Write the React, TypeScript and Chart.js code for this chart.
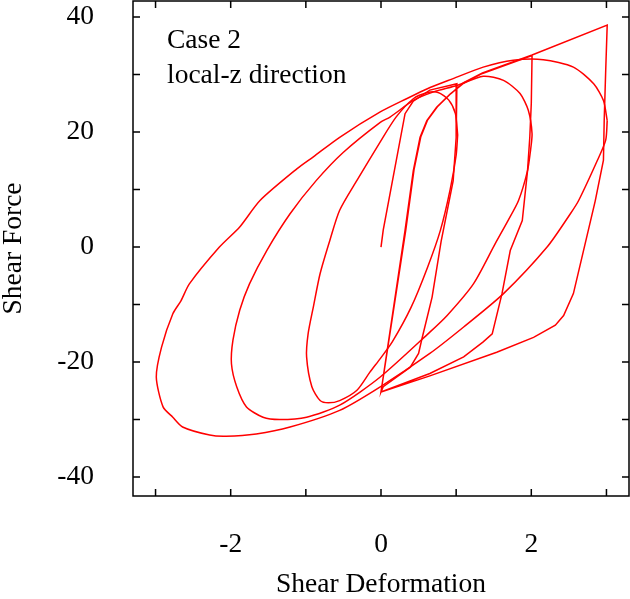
import React, { useEffect, useRef } from "react";
import Chart from "chart.js/auto";

const FONT = '"Liberation Serif", "Times New Roman", serif';

// tick labels that are printed (other ticks are drawn without text)
const xLabelled = [-2, 0, 2];
const yLabelled = [-40, -20, 0, 20, 40];
const noteLines = ["Case 2", "local-z direction"];

// bilinear branch: 0 -> +1 -> back to corner -> +2 -> corner -> +3 -> corner
const sharpBranch: [number, number][] = [
  [0, 0], [0.03, 3], [0.32, 23.2], [0.43, 25.4], [0.65, 27.3], [1.01, 28.4],
  [1.0, 19], [0.96, 11.5], [0.8, 1], [0.68, -8.7], [0.54, -16.2], [0.5, -18.5],
  [0.39, -20.9], [0.03, -24.3], [0, -25.2],
  [0.32, 2.9], [0.43, 13.3], [0.52, 19.1], [0.61, 22], [0.74, 24.3], [0.92, 26.6],
  [1.1, 28.5], [1.35, 30.2], [2.01, 33.3],
  [2.0, 25], [1.98, 19.1], [1.95, 13.3], [1.88, 4.6], [1.72, -0.6], [1.61, -8.1],
  [1.48, -15.1], [1.36, -16.5], [1.1, -19.1], [0.65, -22], [0, -25.2],
  [0.33, 3], [0.44, 13.5], [0.53, 19.2], [0.62, 22.1], [0.75, 24.4], [0.93, 26.7],
  [1.1, 28.6], [1.35, 30.3], [2.01, 33.4], [3.01, 38.6],
  [2.99, 30.7], [2.97, 22], [2.96, 15.1], [2.85, 8], [2.56, -8.1], [2.43, -11.9],
  [2.32, -13.6], [2.03, -15.7], [1.54, -18.3], [0.65, -22.4], [0, -25.2],
];

// smooth loops, amplitude ~1
const smallLoop: [number, number][] = [
  [1.02, 19.5], [0.99, 23.2], [0.9, 25.6], [0.76, 26.9], [0.6, 26.8], [0.43, 25.8],
  [0.2, 22.6], [-0.01, 18.3], [-0.32, 11.6], [-0.55, 6.4], [-0.68, 1.2], [-0.81, -4.6],
  [-0.9, -10.4], [-0.97, -15.1], [-0.99, -19.1], [-0.92, -24.3], [-0.81, -26.7],
  [-0.7, -27.1], [-0.55, -26.7], [-0.32, -24.9], [-0.15, -21.8], [-0.01, -19.4],
  [0.15, -16.5], [0.4, -10.5], [0.62, -3.5], [0.79, 2.9], [0.92, 10], [1.0, 16],
  [1.02, 19.5],
];

// amplitude ~2
const midLoop: [number, number][] = [
  [1.99, 16.8], [2.01, 19.7], [1.96, 23.8], [1.85, 26.7], [1.63, 29.0], [1.36, 29.7],
  [1.01, 28.1], [0.7, 27.0], [0.43, 25.5], [0.12, 22.6], [-0.01, 21.7], [-0.5, 16.5],
  [-0.86, 11.6], [-1.21, 5.8], [-1.52, -0.6], [-1.75, -6.4], [-1.88, -11.0],
  [-1.97, -16.2], [-1.99, -20.3], [-1.92, -24.3], [-1.79, -27.8], [-1.57, -29.6],
  [-1.35, -30.0], [-0.99, -29.6], [-0.55, -27.5], [-0.01, -22.6], [0.65, -14.8],
  [0.88, -11.9], [1.23, -6.4], [1.52, 0.6], [1.69, 4.6], [1.83, 8.1], [1.95, 13.3],
  [1.99, 16.8],
];

// amplitude ~3
const bigLoop: [number, number][] = [
  [3.01, 22.0], [2.96, 25.5], [2.83, 28.4], [2.56, 31.3], [2.16, 32.6], [1.76, 32.5],
  [1.36, 31.3], [0.96, 29.3], [0.61, 27.5], [0.34, 25.8], [-0.01, 23.5], [-0.55, 19.1],
  [-0.9, 15.7], [-1.12, 13.6], [-1.61, 8.1], [-1.88, 3.5], [-2.15, 0], [-2.55, -6.4],
  [-2.66, -9.3], [-2.77, -11.6], [-2.92, -17.4], [-2.99, -22.6], [-2.9, -27.8],
  [-2.77, -29.6], [-2.64, -31.3], [-2.28, -32.7], [-2.06, -32.9], [-1.66, -32.5],
  [-1.21, -31.3], [-0.55, -28.4], [-0.01, -24.3], [0.65, -18.5], [1.1, -13.9],
  [1.63, -8.1], [2.21, 0], [2.52, 5.8], [2.63, 8.1], [2.88, 15.1], [2.99, 18.6],
  [3.01, 22.0],
];

const toPoints = (arr: [number, number][]) => arr.map(([x, y]) => ({ x, y }));

// gnuplot-like frame with inward ticks on all four sides, plus the note
const framePlugin = {
  id: "frame",
  afterDraw(chart: any) {
    const { ctx, chartArea: a, scales } = chart;
    ctx.save();
    ctx.strokeStyle = "#000";
    ctx.lineWidth = 1.5;
    ctx.strokeRect(a.left, a.top, a.right - a.left, a.bottom - a.top);
    ctx.beginPath();
    scales.x.ticks.forEach((t: any) => {
      const p = scales.x.getPixelForValue(t.value);
      ctx.moveTo(p, a.bottom);
      ctx.lineTo(p, a.bottom - 7);
      ctx.moveTo(p, a.top);
      ctx.lineTo(p, a.top + 7);
    });
    scales.y.ticks.forEach((t: any) => {
      const p = scales.y.getPixelForValue(t.value);
      ctx.moveTo(a.left, p);
      ctx.lineTo(a.left + 7, p);
      ctx.moveTo(a.right, p);
      ctx.lineTo(a.right - 7, p);
    });
    ctx.stroke();
    ctx.fillStyle = "#000";
    ctx.font = `27.5px ${FONT}`;
    ctx.textAlign = "left";
    ctx.textBaseline = "alphabetic";
    noteLines.forEach((line, i) => ctx.fillText(line, a.left + 34, a.top + 47 + i * 35));
    ctx.restore();
  },
};

const noPadding = (scale: any) => {
  scale.paddingTop = 0;
  scale.paddingBottom = 0;
  scale.paddingLeft = 0;
  scale.paddingRight = 0;
};

const HysteresisChart = () => {
  const chartRef: any = useRef(null);
  const chartInstance: any = useRef(null);

  useEffect(() => {
    if (chartRef.current) {
      const ctx = chartRef.current.getContext("2d");
      const line = (data: [number, number][], tension: number) => ({
        data: toPoints(data),
        showLine: true,
        borderColor: "#ff0000",
        borderWidth: 1.5,
        pointRadius: 0,
        tension,
        fill: false,
      });
      chartInstance.current = new Chart(ctx, {
        type: "scatter",
        data: {
          datasets: [
            line(sharpBranch, 0),
            line(smallLoop, 0.25),
            line(midLoop, 0.25),
            line(bigLoop, 0.25),
          ],
        },
        options: {
          animation: false,
          responsive: true,
          maintainAspectRatio: false,
          layout: { padding: { top: 1, right: 1, left: 0, bottom: 0 } },
          plugins: { legend: { display: false }, tooltip: { enabled: false } },
          scales: {
            x: {
              type: "linear",
              min: -3.3,
              max: 3.3,
              grid: { display: false, drawTicks: false },
              border: { display: false },
              ticks: {
                stepSize: 1,
                includeBounds: false,
                autoSkip: false,
                maxRotation: 0,
                padding: 32,
                color: "#000",
                font: { family: FONT, size: 27.5 },
                callback: (v: any) => (xLabelled.includes(Number(v)) ? String(v) : ""),
              },
              title: {
                display: true,
                text: "Shear Deformation",
                color: "#000",
                font: { family: FONT, size: 27.5, lineHeight: 1 },
                padding: 0,
              },
              afterFit: (scale: any) => {
                scale.height = 103;
                noPadding(scale);
              },
            },
            y: {
              type: "linear",
              min: -43.3,
              max: 42.8,
              grid: { display: false, drawTicks: false },
              border: { display: false },
              ticks: {
                stepSize: 10,
                includeBounds: false,
                autoSkip: false,
                padding: 39,
                color: "#000",
                font: { family: FONT, size: 27.5 },
                callback: (v: any) => (yLabelled.includes(Number(v)) ? String(v) : ""),
              },
              title: {
                display: true,
                text: "Shear Force",
                color: "#000",
                font: { family: FONT, size: 27.5, lineHeight: 1 },
                padding: 0,
              },
              afterFit: (scale: any) => {
                scale.width = 133;
                noPadding(scale);
              },
            },
          },
        },
        plugins: [framePlugin],
      });
    }

    return () => {
      if (chartInstance.current) {
        chartInstance.current.destroy();
      }
    };
  }, []);

  return (
    <div style={{ position: "absolute", left: 0, top: 0, width: 630, height: 599, background: "#fff" }}>
      <canvas ref={chartRef}></canvas>
    </div>
  );
};

export default function App() {
  return <HysteresisChart />;
}
